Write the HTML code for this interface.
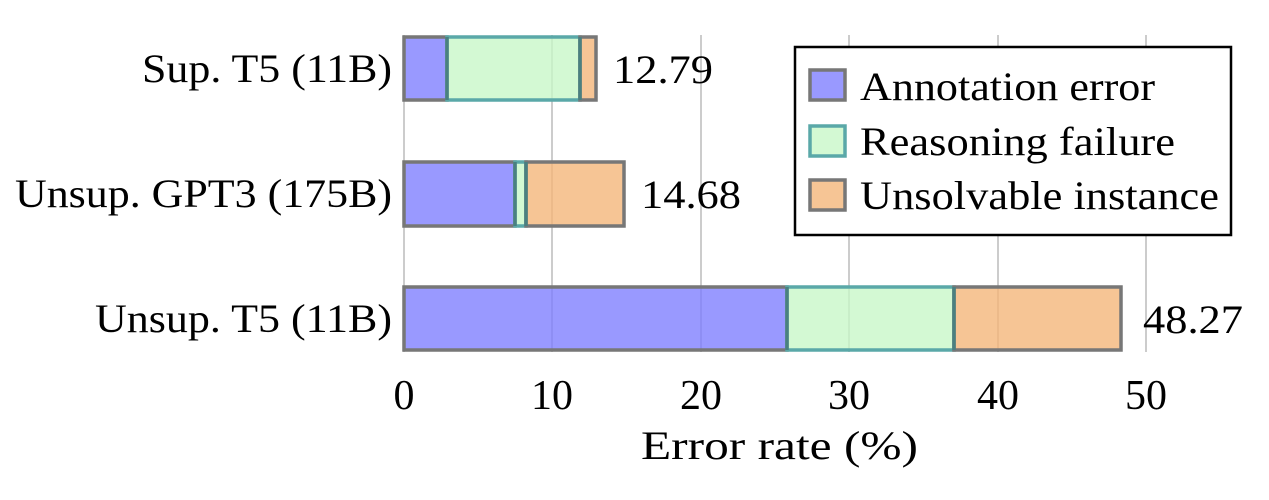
<!DOCTYPE html>
<html><head><style>body{margin:0;background:#fff}svg{display:block}text{font-family:"Liberation Serif",serif;fill:#000}</style></head>
<body>
<svg width="1269" height="500" viewBox="0 0 1269 500" xmlns="http://www.w3.org/2000/svg">
<g stroke="#bbb" stroke-width="1.5">
<line x1="404" y1="35" x2="404" y2="352"/><line x1="552" y1="35" x2="552" y2="352"/><line x1="701" y1="35" x2="701" y2="352"/><line x1="849" y1="35" x2="849" y2="352"/><line x1="998" y1="35" x2="998" y2="352"/><line x1="1146" y1="35" x2="1146" y2="352"/>
</g>
<g stroke-width="3.5" fill-opacity="0.8">
<rect x="404" y="37" width="43" height="63" fill="#8080ff" stroke="#777"/>
<rect x="447" y="37" width="133" height="63" fill="#c8f8c8" stroke="#5aa8a8"/>
<rect x="580" y="37" width="16" height="63" fill="#f4b77a" stroke="#777"/>
<rect x="404" y="162" width="111" height="64" fill="#8080ff" stroke="#777"/>
<rect x="515" y="162" width="11" height="64" fill="#c8f8c8" stroke="#5aa8a8"/>
<rect x="526" y="162" width="98" height="64" fill="#f4b77a" stroke="#777"/>
<rect x="404" y="287" width="383" height="63" fill="#8080ff" stroke="#777"/>
<rect x="787" y="287" width="167" height="63" fill="#c8f8c8" stroke="#5aa8a8"/>
<rect x="954" y="287" width="167" height="63" fill="#f4b77a" stroke="#777"/>
</g>
<g stroke="#4a8080" stroke-width="3.5">
<line x1="447" y1="37" x2="447" y2="100"/><line x1="580" y1="37" x2="580" y2="100"/>
<line x1="515" y1="162" x2="515" y2="226"/><line x1="526" y1="162" x2="526" y2="226"/>
<line x1="787" y1="287" x2="787" y2="350"/><line x1="954" y1="287" x2="954" y2="350"/>
</g>
<g font-size="40">
<text x="142" y="82" textLength="250" lengthAdjust="spacingAndGlyphs">Sup. T5 (11B)</text>
<text x="15" y="207" textLength="377" lengthAdjust="spacingAndGlyphs">Unsup. GPT3 (175B)</text>
<text x="95" y="332" textLength="297" lengthAdjust="spacingAndGlyphs">Unsup. T5 (11B)</text>
<text x="613" y="83" textLength="100" lengthAdjust="spacingAndGlyphs">12.79</text>
<text x="641" y="208" textLength="100" lengthAdjust="spacingAndGlyphs">14.68</text>
<text x="1143" y="333" textLength="100" lengthAdjust="spacingAndGlyphs">48.27</text>
<text x="641" y="459" textLength="277" lengthAdjust="spacingAndGlyphs">Error rate (%)</text>
</g>
<g font-size="42" text-anchor="middle">
<text x="404" y="409">0</text><text x="552" y="409">10</text><text x="701" y="409">20</text><text x="849" y="409">30</text><text x="998" y="409">40</text><text x="1146" y="409">50</text>
</g>
<rect x="795" y="47" width="436" height="188" fill="#fff" stroke="#000" stroke-width="2.5"/>
<g stroke-width="3.5" fill-opacity="0.8">
<rect x="810" y="70" width="35" height="30" fill="#8080ff" stroke="#777"/>
<rect x="810" y="126" width="35" height="30" fill="#c8f8c8" stroke="#5aa8a8"/>
<rect x="810" y="180" width="35" height="30" fill="#f4b77a" stroke="#777"/>
</g>
<g font-size="40">
<text x="860" y="100" textLength="295" lengthAdjust="spacingAndGlyphs">Annotation error</text>
<text x="860" y="155" textLength="315" lengthAdjust="spacingAndGlyphs">Reasoning failure</text>
<text x="860" y="209" textLength="359" lengthAdjust="spacingAndGlyphs">Unsolvable instance</text>
</g>
</svg>
</body></html>
